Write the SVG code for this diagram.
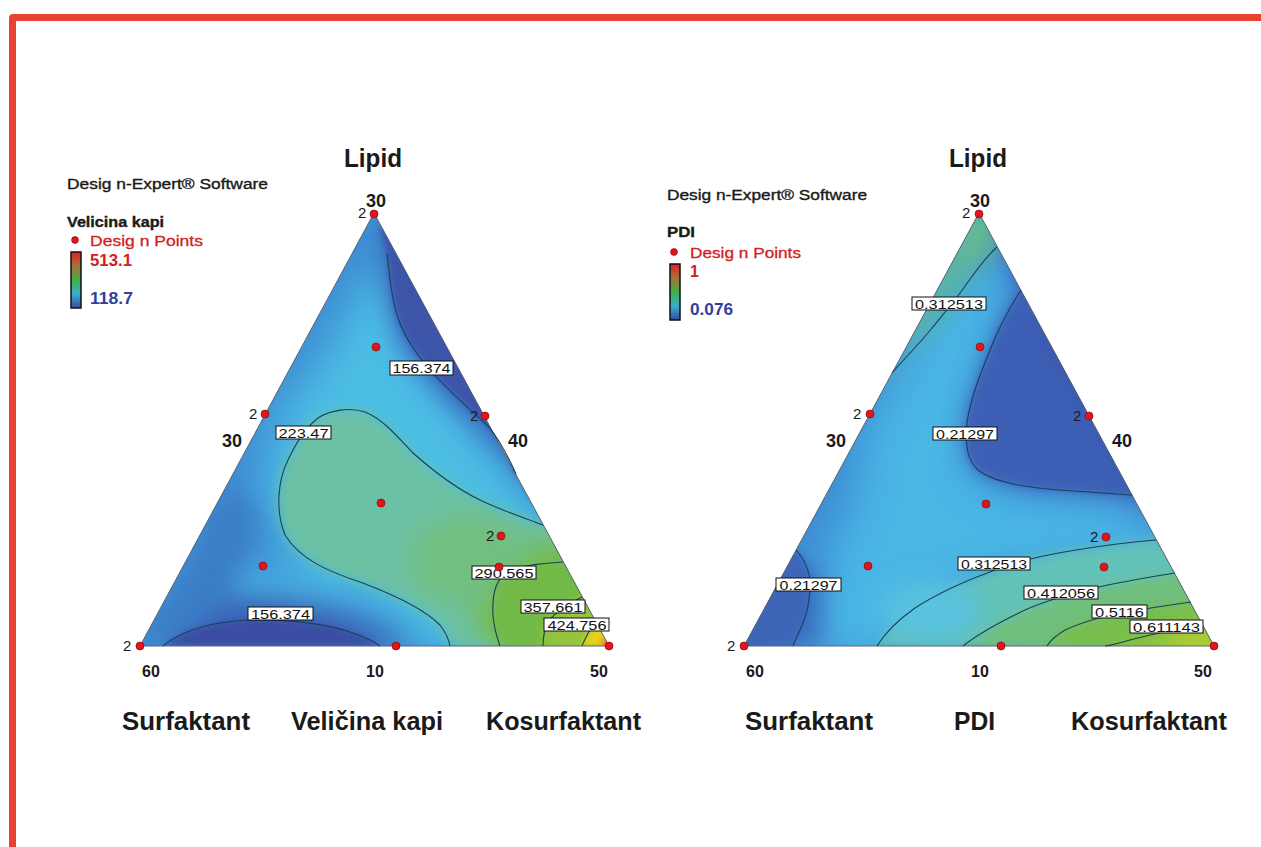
<svg xmlns="http://www.w3.org/2000/svg" width="1261" height="847" viewBox="0 0 1261 847">
<defs>
<style>
.ax{font-family:"Liberation Sans",Arial,sans-serif;font-weight:bold;fill:#1a1a1a}
.ttl{font-size:26px}
.num{font-size:18px}
.bnum{font-size:16px}
.leg{font-family:"Liberation Sans",Arial,sans-serif;font-size:14px;fill:#1a1a1a;stroke:#1a1a1a;stroke-width:0.35}
.legr{font-family:"Liberation Sans",Arial,sans-serif;font-size:15px;fill:#d42020;stroke:#d42020;stroke-width:0.3}
.legv{font-family:"Liberation Sans",Arial,sans-serif;font-size:16px;font-weight:bold}
.two{font-family:"Liberation Sans",Arial,sans-serif;font-size:15px;fill:#1a1a1a}
.cl{fill:none;stroke:#17425a;stroke-width:1.1}
.lb rect{fill:#fff;stroke:#111;stroke-width:1}
.lb text{font-family:"Liberation Sans",Arial,sans-serif;font-size:13px;fill:#111}
.dp{fill:#e3141b;stroke:#8a0a0a;stroke-width:0.7}
.edge{fill:none;stroke:#5a6470;stroke-width:1}
</style>
<filter id="b3" filterUnits="userSpaceOnUse" x="0" y="0" width="1261" height="847"><feGaussianBlur stdDeviation="3"/></filter>
<filter id="b6" filterUnits="userSpaceOnUse" x="0" y="0" width="1261" height="847"><feGaussianBlur stdDeviation="6"/></filter>
<filter id="b12" filterUnits="userSpaceOnUse" x="0" y="0" width="1261" height="847"><feGaussianBlur stdDeviation="12"/></filter>
<filter id="b20" filterUnits="userSpaceOnUse" x="0" y="0" width="1261" height="847"><feGaussianBlur stdDeviation="20"/></filter>
<clipPath id="tl"><polygon points="374,213 140,646 609,646"/></clipPath>
<clipPath id="tr"><polygon points="979,213 744,646 1214,646"/></clipPath>
<linearGradient id="bar" x1="0" y1="0" x2="0" y2="1">
<stop offset="0" stop-color="#e0202a"/>
<stop offset="0.25" stop-color="#a8703a"/>
<stop offset="0.5" stop-color="#3fb048"/>
<stop offset="0.75" stop-color="#38b0c8"/>
<stop offset="1" stop-color="#3a4aa8"/>
</linearGradient>
</defs>
<rect width="1261" height="847" fill="#fff"/>
<!-- red frame -->
<path d="M9,847 V18 Q9,14 13,14 H1261 V21 H16 V847 Z" fill="#e94233"/>

<!-- LEFT PLOT -->
<g id="plot-left">
<g clip-path="url(#tl)">
<rect x="130" y="200" width="490" height="460" fill="#3e8ed3"/>
<g filter="url(#b20)">
<polygon points="372,265 405,285 440,380 500,455 560,520 575,560 565,660 440,660 380,610 300,570 262,500 275,420 320,360 355,300" fill="#4bbde4"/>
<polygon points="200,560 300,575 360,600 300,610 200,610" fill="#47aee0"/>
</g>
<g filter="url(#b6)">
<path d="M543,525 C525,518 505,512 480,500 C455,488 430,468 413,453 C400,440 385,420 365,412 C350,407 330,410 318,418 C305,428 295,445 288,460 C278,480 275,510 285,535 C300,560 330,572 360,582 C395,595 425,610 440,625 C446,633 449,640 450,646 L600,660 L600,520 Z" fill="#6cc1a4"/>
</g>
<g filter="url(#b12)">
<ellipse cx="545" cy="600" rx="75" ry="60" fill="#74bb52"/>
<ellipse cx="470" cy="560" rx="60" ry="45" fill="#72bf80"/>
</g>
<g filter="url(#b6)">
<path d="M563,562 C545,563 520,565 507,572 C495,580 492,598 493,615 C494,630 498,640 500,646 L620,660 L620,560 Z" fill="#72ba46"/>
<path d="M582,597 C570,603 555,612 548,622 C544,630 543,638 543,646 L620,660 L620,590 Z" fill="#96c43c"/>
</g>
<g filter="url(#b3)">
<path d="M595,621 C590,630 585,638 582,646 L620,650 L620,615 Z" fill="#e8d21c"/>
<circle cx="608" cy="644" r="7" fill="#e8682a"/>
</g>
<g filter="url(#b12)">
<path d="M380,240 C385,290 388,320 400,345 C420,380 470,420 500,450 C520,470 530,490 545,500 L560,480 L400,210 Z" fill="#3a6fc2"/>
<path d="M140,646 C160,620 200,600 240,598 C300,598 360,615 410,646 Z" fill="#3a64b8"/>
<path d="M140,646 L230,480 L260,520 L230,600 L170,646 Z" fill="#3b7ec8"/>
</g>
<g filter="url(#b3)">
<path d="M387,253 C390,280 392,300 398,318 C405,338 415,352 430,370 C448,390 470,410 490,428 C502,442 510,458 517,475 L560,470 L400,215 L380,230 Z" fill="#3c55a9"/>
<path d="M163,646 C180,632 205,624 235,621 C275,618 320,622 350,632 C365,637 375,642 380,646 Z" fill="#3b4ea4"/>
</g>
</g>
<polygon class="edge" points="374,213 140,646 609,646"/>
</g>

<g id="contours-left">
<path class="cl" d="M387,253 C390,280 392,300 398,318 C405,338 415,352 430,370 C448,390 470,410 488,426 C500,440 508,456 516,474"/>
<path class="cl" d="M543,525 C525,518 505,512 480,500 C455,488 430,468 413,453 C400,440 385,420 365,412 C350,407 330,410 318,418 C305,428 295,445 288,460 C278,480 275,510 285,535 C300,560 330,572 360,582 C395,595 425,610 440,625 C446,633 449,640 450,646"/>
<path class="cl" d="M563,562 C545,563 520,565 507,572 C495,580 492,598 493,615 C494,630 498,640 500,646"/>
<path class="cl" d="M582,597 C570,603 555,612 548,622 C544,630 543,638 543,646"/>
<path class="cl" d="M595,621 C590,630 585,638 582,646"/>
<path class="cl" d="M163,646 C180,632 205,624 235,621 C275,618 320,622 350,632 C365,637 375,642 380,646"/>
</g>

<g id="labels-left" class="lb">
<g><rect x="390" y="361" width="63" height="14"/><text x="421.5" y="373" text-anchor="middle" textLength="58" lengthAdjust="spacingAndGlyphs">156.374</text></g>
<g><rect x="276" y="426" width="55" height="13"/><text x="303.5" y="437.5" text-anchor="middle" textLength="50" lengthAdjust="spacingAndGlyphs">223.47</text></g>
<g><rect x="472" y="566" width="64" height="13"/><text x="504" y="577.5" text-anchor="middle" textLength="59" lengthAdjust="spacingAndGlyphs">290.565</text></g>
<g><rect x="521" y="600" width="64" height="13"/><text x="553" y="611.5" text-anchor="middle" textLength="59" lengthAdjust="spacingAndGlyphs">357.661</text></g>
<g><rect x="544" y="618" width="65" height="13"/><text x="577" y="629.5" text-anchor="middle" textLength="59" lengthAdjust="spacingAndGlyphs">424.756</text></g>
<g><rect x="248" y="607" width="65" height="13"/><text x="280.5" y="618.5" text-anchor="middle" textLength="59" lengthAdjust="spacingAndGlyphs">156.374</text></g>
</g>

<g id="points-left">
<circle class="dp" cx="374" cy="214" r="4"/>
<circle class="dp" cx="376" cy="347" r="4"/>
<circle class="dp" cx="265" cy="414" r="4"/>
<circle class="dp" cx="485" cy="416" r="4"/>
<circle class="dp" cx="381" cy="503" r="4"/>
<circle class="dp" cx="501" cy="536" r="4"/>
<circle class="dp" cx="499" cy="567" r="4"/>
<circle class="dp" cx="263" cy="566" r="4"/>
<circle class="dp" cx="140" cy="646" r="4"/>
<circle class="dp" cx="396" cy="646" r="4"/>
<circle class="dp" cx="609" cy="646" r="4"/>
<text class="two" x="358" y="218">2</text>
<text class="two" x="249" y="419">2</text>
<text class="two" x="470" y="421">2</text>
<text class="two" x="486" y="541">2</text>
<text class="two" x="123" y="651">2</text>
</g>

<g id="axes-left">
<text class="ax ttl" x="373" y="167" text-anchor="middle" textLength="58" lengthAdjust="spacingAndGlyphs">Lipid</text>
<text class="ax num" x="376" y="207" text-anchor="middle">30</text>
<text class="ax num" x="232" y="447" text-anchor="middle">30</text>
<text class="ax num" x="518" y="447" text-anchor="middle">40</text>
<text class="ax bnum" x="151" y="677" text-anchor="middle">60</text>
<text class="ax bnum" x="375" y="677" text-anchor="middle">10</text>
<text class="ax bnum" x="599" y="677" text-anchor="middle">50</text>
<text class="ax ttl" x="122" y="730" textLength="128" lengthAdjust="spacingAndGlyphs">Surfaktant</text>
<text class="ax ttl" x="291" y="730" textLength="152" lengthAdjust="spacingAndGlyphs">Veličina kapi</text>
<text class="ax ttl" x="486" y="730" textLength="155" lengthAdjust="spacingAndGlyphs">Kosurfaktant</text>
</g>

<g id="legend-left">
<text class="leg" x="67" y="189" textLength="201" lengthAdjust="spacingAndGlyphs">Desig n-Expert® Software</text>
<text class="leg" x="67" y="227" font-size="15" font-weight="bold" textLength="97" lengthAdjust="spacingAndGlyphs">Velicina kapi</text>
<circle class="dp" cx="75" cy="240" r="3.4"/>
<text class="legr" x="90" y="246" textLength="113" lengthAdjust="spacingAndGlyphs">Desig n Points</text>
<rect x="71" y="252" width="10" height="56" fill="url(#bar)" stroke="#111" stroke-width="1.5"/>
<text class="legv" x="90" y="266" fill="#d42020" textLength="42" lengthAdjust="spacingAndGlyphs">513.1</text>
<text class="legv" x="90" y="304" fill="#33409a" textLength="43" lengthAdjust="spacingAndGlyphs">118.7</text>
</g>

<!-- RIGHT PLOT -->
<g id="plot-right">
<g clip-path="url(#tr)">
<rect x="735" y="200" width="490" height="460" fill="#3e8dd5"/>
<g filter="url(#b20)">
<polygon points="865,430 935,300 1000,255 1012,300 978,400 968,462 1000,490 1100,500 1160,520 1175,560 1100,560 990,578 930,605 885,660 815,660 825,560 855,500" fill="#49b6e4"/>
</g>
<g filter="url(#b12)">
<path d="M870,400 L900,355 L935,325 L968,282 L997,247 L1010,200 L960,200 Z" fill="#5ab6a6"/>
<polygon points="979,205 1000,250 960,270" fill="#6bbb86"/>
</g>
<g filter="url(#b6)">
<path d="M1156,540 C1130,542 1100,546 1070,551 C1040,556 1010,563 990,572 C960,583 935,595 915,608 C898,620 885,633 877,646 L1230,660 L1230,530 Z" fill="#64c2b8"/>
<path d="M1175,573 C1150,577 1120,582 1095,588 C1070,594 1045,601 1025,610 C1000,622 978,634 963,646 L1230,660 L1230,565 Z" fill="#70bf7c"/>
<path d="M1191,602 C1170,605 1150,608 1125,612 C1100,617 1080,623 1065,630 C1055,636 1050,641 1047,646 L1230,660 L1230,595 Z" fill="#78bd4c"/>
<path d="M1203,625 C1170,630 1145,636 1130,640 C1120,643 1112,645 1105,646 L1230,660 L1230,615 Z" fill="#8cc23e"/>
</g>
<g filter="url(#b12)">
<ellipse cx="1200" cy="645" rx="35" ry="18" fill="#b0cc34"/>
<ellipse cx="930" cy="610" rx="50" ry="30" fill="#58c2e0"/>
</g>
<g filter="url(#b12)">
<path d="M1021,290 C1008,310 997,332 990,350 C980,375 970,400 967,423 C965,445 967,460 978,470 C995,483 1030,488 1060,490 C1090,492 1115,494 1132,495 L1150,520 L1150,300 L1000,240 Z" fill="#3d6cc0"/>
<path d="M744,646 L780,560 L820,570 L820,646 Z" fill="#3b6fc0"/>
</g>
<g filter="url(#b3)">
<path d="M1021,290 C1008,310 997,332 990,350 C980,375 970,400 967,423 C965,445 967,460 978,470 C995,483 1030,488 1060,490 C1090,492 1115,494 1132,495 L1150,495 L1150,280 L1000,220 Z" fill="#3e61b6"/>
<path d="M796,550 C805,560 810,570 810,585 C810,605 805,620 800,630 C797,637 794,642 793,646 L740,650 L760,540 Z" fill="#3c66b9"/>
</g>
<g filter="url(#b12)">
<polygon points="1040,330 1130,480 1150,480 1040,300" fill="#3a52aa"/>
</g>
</g>
<polygon class="edge" points="979,213 744,646 1214,646"/>
</g>

<g id="contours-right">
<path class="cl" d="M892,373 C905,358 920,343 932,328 C945,312 958,297 968,282 C978,268 988,255 997,247"/>
<path class="cl" d="M1021,290 C1008,310 997,332 990,350 C980,375 970,400 967,423 C965,445 967,460 978,470 C995,483 1030,488 1060,490 C1090,492 1115,494 1132,495"/>
<path class="cl" d="M796,550 C805,560 810,570 810,585 C810,605 805,620 800,630 C797,637 794,642 793,646"/>
<path class="cl" d="M1156,540 C1130,542 1100,546 1070,551 C1040,556 1010,563 990,572 C960,583 935,595 915,608 C898,620 885,633 877,646"/>
<path class="cl" d="M1175,573 C1150,577 1120,582 1095,588 C1070,594 1045,601 1025,610 C1000,622 978,634 963,646"/>
<path class="cl" d="M1191,602 C1170,605 1150,608 1125,612 C1100,617 1080,623 1065,630 C1055,636 1050,641 1047,646"/>
<path class="cl" d="M1203,625 C1170,630 1145,636 1130,640 C1120,643 1112,645 1105,646"/>
</g>

<g id="labels-right" class="lb">
<g><rect x="912" y="297" width="74" height="13"/><text x="949" y="308.5" text-anchor="middle" textLength="68" lengthAdjust="spacingAndGlyphs">0.312513</text></g>
<g><rect x="933" y="427" width="64" height="13"/><text x="965" y="438.5" text-anchor="middle" textLength="58" lengthAdjust="spacingAndGlyphs">0.21297</text></g>
<g><rect x="776" y="578" width="65" height="13"/><text x="808.5" y="589.5" text-anchor="middle" textLength="58" lengthAdjust="spacingAndGlyphs">0.21297</text></g>
<g><rect x="958" y="557" width="72" height="13"/><text x="994" y="568.5" text-anchor="middle" textLength="66" lengthAdjust="spacingAndGlyphs">0.312513</text></g>
<g><rect x="1024" y="586" width="74" height="13"/><text x="1061" y="597.5" text-anchor="middle" textLength="68" lengthAdjust="spacingAndGlyphs">0.412056</text></g>
<g><rect x="1092" y="605" width="55" height="13"/><text x="1119.5" y="616.5" text-anchor="middle" textLength="49" lengthAdjust="spacingAndGlyphs">0.5116</text></g>
<g><rect x="1130" y="620" width="73" height="13"/><text x="1166.5" y="631.5" text-anchor="middle" textLength="67" lengthAdjust="spacingAndGlyphs">0.611143</text></g>
</g>

<g id="points-right">
<circle class="dp" cx="979" cy="214" r="4"/>
<circle class="dp" cx="980" cy="347" r="4"/>
<circle class="dp" cx="870" cy="414" r="4"/>
<circle class="dp" cx="1089" cy="416" r="4"/>
<circle class="dp" cx="986" cy="504" r="4"/>
<circle class="dp" cx="1106" cy="537" r="4"/>
<circle class="dp" cx="1104" cy="567" r="4"/>
<circle class="dp" cx="868" cy="566" r="4"/>
<circle class="dp" cx="744" cy="646" r="4"/>
<circle class="dp" cx="1001" cy="646" r="4"/>
<circle class="dp" cx="1214" cy="646" r="4"/>
<text class="two" x="962" y="218">2</text>
<text class="two" x="853" y="419">2</text>
<text class="two" x="1073" y="421">2</text>
<text class="two" x="1090" y="542">2</text>
<text class="two" x="727" y="651">2</text>
</g>

<g id="axes-right">
<text class="ax ttl" x="978" y="167" text-anchor="middle" textLength="58" lengthAdjust="spacingAndGlyphs">Lipid</text>
<text class="ax num" x="980" y="207" text-anchor="middle">30</text>
<text class="ax num" x="836" y="447" text-anchor="middle">30</text>
<text class="ax num" x="1122" y="447" text-anchor="middle">40</text>
<text class="ax bnum" x="755" y="677" text-anchor="middle">60</text>
<text class="ax bnum" x="980" y="677" text-anchor="middle">10</text>
<text class="ax bnum" x="1203" y="677" text-anchor="middle">50</text>
<text class="ax ttl" x="745" y="730" textLength="128" lengthAdjust="spacingAndGlyphs">Surfaktant</text>
<text class="ax ttl" x="954" y="730" textLength="41" lengthAdjust="spacingAndGlyphs">PDI</text>
<text class="ax ttl" x="1071" y="730" textLength="156" lengthAdjust="spacingAndGlyphs">Kosurfaktant</text>
</g>

<g id="legend-right">
<text class="leg" x="667" y="200" textLength="200" lengthAdjust="spacingAndGlyphs">Desig n-Expert® Software</text>
<text class="leg" x="667" y="237" font-size="15" font-weight="bold" textLength="28" lengthAdjust="spacingAndGlyphs">PDI</text>
<circle class="dp" cx="674" cy="252" r="3.4"/>
<text class="legr" x="690" y="258" textLength="111" lengthAdjust="spacingAndGlyphs">Desig n Points</text>
<rect x="670" y="264" width="10" height="56" fill="url(#bar)" stroke="#111" stroke-width="1.5"/>
<text class="legv" x="690" y="277" fill="#d42020">1</text>
<text class="legv" x="690" y="315" fill="#33409a" textLength="43" lengthAdjust="spacingAndGlyphs">0.076</text>
</g>
</svg>
